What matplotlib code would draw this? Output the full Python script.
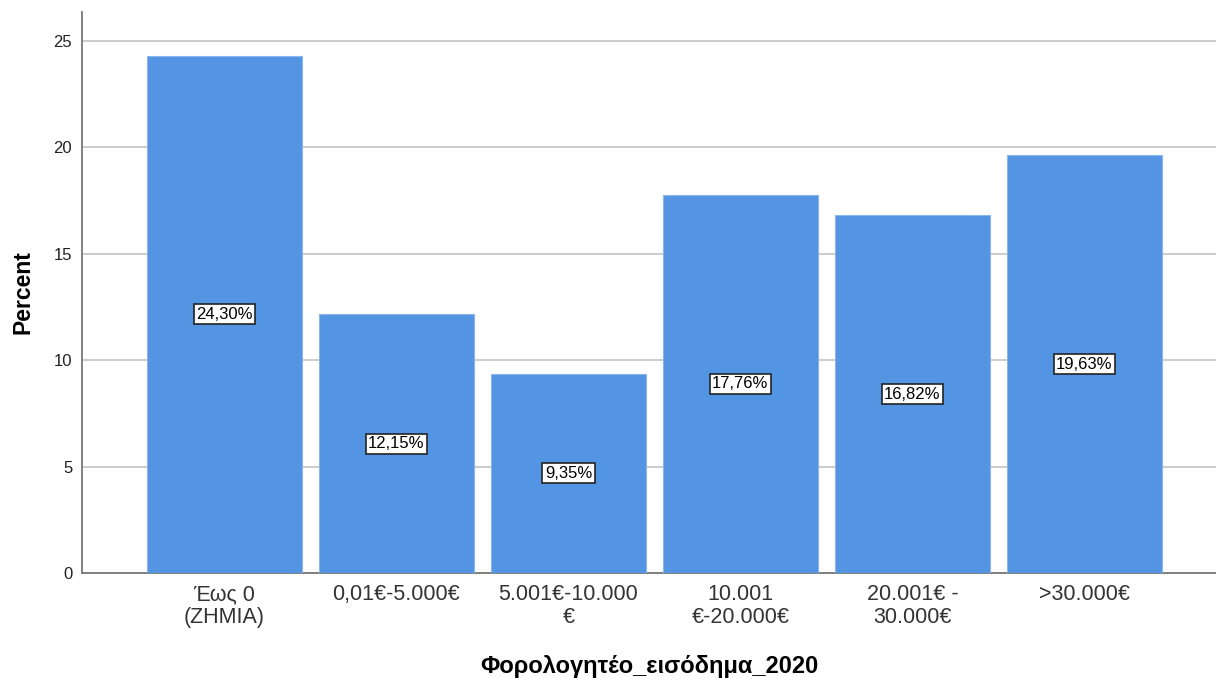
import matplotlib
matplotlib.use('Agg')
from matplotlib import pyplot as plt

# Данные
categories = ['Έως 0\n(ZHMIA)', '0,01€-5.000€', '5.001€-10.000\n€',
              '10.001\n€-20.000€', '20.001€ -\n30.000€', '>30.000€']
percents = [24.30, 12.15, 9.35, 17.76, 16.82, 19.63]
y_ticks = [0, 5, 10, 15, 20, 25]


def income_chart():
    plt.rcParams['font.family'] = ['Liberation Sans', 'DejaVu Sans']
    fig = plt.figure(figsize=(12.16, 6.78), dpi=100)
    ax = fig.add_axes([0.0674, 0.1549, 0.9326, 0.8274])

    x = list(range(len(categories)))
    ax.bar(x, percents, width=0.9, color='#5394e3', edgecolor='#8ab6ee',
           linewidth=0.8, zorder=3)

    # Подписи в рамках посередине столбцов
    for xi, val in zip(x, percents):
        ax.text(xi, val / 2, f'{val:.2f}%'.replace('.', ','),
                ha='center', va='center', fontsize=12, color='black',
                zorder=4,
                bbox=dict(boxstyle='square,pad=0.15', facecolor='white',
                          edgecolor='#222222', linewidth=1.2))

    ax.set_xlim(-0.828, 5.765)
    ax.set_ylim(0, 26.36)
    ax.set_yticks(y_ticks)
    ax.set_yticklabels([str(t) for t in y_ticks], fontsize=12, color='#222222')
    ax.set_xticks(x)
    ax.set_xticklabels(categories, fontsize=15.5, color='#333333',
                       linespacing=1.1)
    ax.tick_params(axis='x', length=0, pad=8)
    ax.tick_params(axis='y', length=0, pad=7)

    ax.grid(axis='y', color='#c8c8c8', linewidth=1.3, zorder=0)
    for side in ['top', 'right']:
        ax.spines[side].set_visible(False)
    for side in ['left', 'bottom']:
        ax.spines[side].set_color('#777777')
        ax.spines[side].set_linewidth(1.3)

    ax.set_ylabel('Percent', fontsize=16.5, fontweight='bold', labelpad=14)
    ax.set_xlabel('Φορολογητέο_εισόδημα_2020', fontsize=17,
                  fontweight='bold', labelpad=20)

    fig.savefig('out.png', dpi=100)


def main():
    income_chart()


if __name__ == '__main__':
    main()
